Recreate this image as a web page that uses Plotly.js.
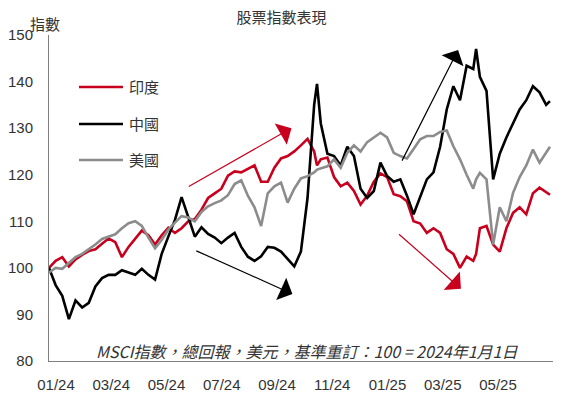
<!DOCTYPE html>
<html>
<head>
<meta charset="utf-8">
<script src="https://cdn.plot.ly/plotly-3.0.1.min.js"></script>
<style>html,body{margin:0;padding:0;background:#fff;}#chart{width:563px;height:397px;}</style>
</head>
<body>
<div id="chart"></div>
<script>
var dates = ["2024-01-01","2024-01-08","2024-01-15","2024-01-22","2024-01-29","2024-02-05","2024-02-12","2024-02-19","2024-02-26","2024-03-04","2024-03-11","2024-03-18","2024-03-25","2024-04-01","2024-04-08","2024-04-15","2024-04-22","2024-04-29","2024-05-06","2024-05-13","2024-05-20","2024-05-27","2024-06-03","2024-06-10","2024-06-17","2024-06-24","2024-07-01","2024-07-08","2024-07-15","2024-07-22","2024-07-29","2024-08-05","2024-08-12","2024-08-19","2024-08-26","2024-09-02","2024-09-09","2024-09-16","2024-09-23","2024-09-30","2024-10-07","2024-10-10","2024-10-14","2024-10-21","2024-10-28","2024-11-04","2024-11-11","2024-11-18","2024-11-25","2024-12-02","2024-12-09","2024-12-16","2024-12-23","2024-12-30","2025-01-06","2025-01-13","2025-01-20","2025-01-27","2025-02-03","2025-02-10","2025-02-17","2025-02-24","2025-03-03","2025-03-10","2025-03-17","2025-03-24","2025-03-27","2025-03-31","2025-04-07","2025-04-14","2025-04-21","2025-04-28","2025-05-05","2025-05-12","2025-05-19","2025-05-26","2025-06-02","2025-06-09","2025-06-13"];

var india = [100,101.5,102.3,100.3,101.8,102.8,103.6,104,105.2,106.3,105.5,102.3,104.5,106.3,108,107,105,107,108.6,107.5,108.5,110,110.5,112.5,115,116,117,119.8,120.7,120.5,121.3,122,118.5,118.5,121.5,123.5,124,125,126.3,127.7,125,122,123.3,123.7,119.5,117.5,118.3,116.5,113.6,115.5,118.5,120.3,119.5,115.8,115.4,114.3,110,109.5,107.5,108.5,107.5,104,103,100,102.4,101.5,103,108.5,109,105,103.5,108.5,111.8,113,111.5,116,117.2,116.3,115.7];

var china = [100,96.3,94,89,93,91.5,92.5,96,97.8,98.5,98.5,99.5,99,98.5,99.8,98.5,97.5,103,106.7,110.3,115.2,111.1,106.7,108.7,107.3,106.5,105.3,106.5,107.5,104.5,102.4,101.5,102.5,104.5,104.3,103.5,102,100.3,103.5,115,135,139.5,131,124.5,124,122,126,124,117,115,116.5,122.6,119.7,118.5,119,115.5,111.5,115.4,119,120.5,126,134,139,136,143.4,142.7,147,141,138,119,124.5,128,131,134,136,139,137.7,135,135.8];

var usa = [99,100,99.8,101,102.3,103,104,105,106.2,106.7,107.2,108.5,109.6,110,109,106.5,104.2,106,108.2,109.7,111.1,110.8,110,112,113.2,113.9,114.5,115.6,118,118.8,115.5,113,109,116,117.5,118.3,114,117,119.2,119.7,120.5,121.1,121.3,121.8,123.3,121.5,124.7,126.3,125,127,128,129,128,124.7,124,123.5,125.5,127.6,128.3,128.3,129.2,129.5,126.1,123.3,120,117,119,120.4,119,105,113,110,116.1,119.5,122,125.4,122.6,124.8,126];

var seriesNames = ["印度","中國","美國"];
var seriesColors = ["#C8001E","#000000","#8C8C8C"];
var tickVals = ["2024-01-08 09:00","2024-03-06 18:00","2024-05-04 02:00","2024-07-01 10:00","2024-08-28 18:00","2024-10-26 02:00","2024-12-23 10:00","2025-02-19 18:00","2025-04-19 03:00"];
var tickText = ["01/24","03/24","05/24","07/24","09/24","11/24","01/25","03/25","05/25"];

var allSeries = [india, china, usa];
var traces = allSeries.map(function(vals, i){
  return {x: dates, y: vals, type: "scatter", mode: "lines", name: seriesNames[i],
          line: {color: seriesColors[i], width: 2.6}, showlegend: false, hoverinfo: "skip"};
});

var txt = "#333333";
var cjk = "'Noto Sans CJK TC', 'Liberation Sans', Arial, sans-serif";
var lat = "'Liberation Sans', Arial, 'Noto Sans CJK TC', sans-serif";

var shapes = [];
var annotations = [];
var legY = [0.8405, 0.727, 0.6166];
for (var i = 0; i < 3; i++) {
  shapes.push({type: "line", xref: "paper", yref: "paper", x0: 0.0595, x1: 0.1468, y0: legY[i], y1: legY[i],
               line: {color: seriesColors[i], width: 2.6}});
  annotations.push({xref: "paper", yref: "paper", x: 0.1548, y: legY[i], xanchor: "left", yanchor: "middle",
                    text: seriesNames[i], showarrow: false, font: {family: cjk, size: 15, color: txt}});
}

function arrow(head, tail, color) {
  return {x: head[0], y: head[1], ax: tail[0], ay: tail[1], xref: "x", yref: "y", axref: "x", ayref: "y",
          text: "", showarrow: true, arrowhead: 1, arrowsize: 3.4, arrowwidth: 1.2, arrowcolor: color, standoff: 0};
}
annotations.push(arrow(["2024-09-13", 130.0], ["2024-05-26", 117.3], "#C8001E"));
annotations.push(arrow(["2024-09-14", 94.4], ["2024-06-03", 103.8], "#000000"));
annotations.push(arrow(["2025-03-08", 146.8], ["2025-01-07", 122.7], "#000000"));
annotations.push(arrow(["2025-03-11", 95.5], ["2025-01-03", 107.5], "#C8001E"));

annotations.push({xref: "paper", yref: "paper", x: 0.511, y: 0.03, xanchor: "center", yanchor: "middle",
  text: "<i>MSCI指數，總回報，美元，基準重訂：100 = 2024年1月1日</i>", showarrow: false,
  font: {family: cjk, size: 16, color: txt}});
annotations.push({xref: "paper", yref: "paper", x: -0.042, y: 1.035, xanchor: "left", yanchor: "middle",
  text: "指數", showarrow: false, font: {family: cjk, size: 15, color: txt}});

var layout = {
  width: 563, height: 397,
  margin: {l: 49, r: 10, t: 35, b: 36},
  paper_bgcolor: "#ffffff", plot_bgcolor: "#ffffff",
  title: {text: "股票指數表現", x: 0.5, xref: "container", y: 0.955, yref: "container", yanchor: "middle",
          font: {family: cjk, size: 15, color: txt}},
  xaxis: {type: "date", range: ["2024-01-01", "2025-06-16 05:00"], tickvals: tickVals, ticktext: tickText,
          showgrid: false, zeroline: false, showline: true, linecolor: "#7f7f7f", linewidth: 1,
          ticks: "", ticklabelstandoff: 10, tickfont: {family: lat, size: 15, color: txt}},
  yaxis: {range: [80, 150], tickvals: [80,90,100,110,120,130,140,150], showgrid: false, zeroline: false,
          showline: true, linecolor: "#7f7f7f", linewidth: 1, ticks: "", ticklabelstandoff: 12,
          tickfont: {family: lat, size: 15, color: txt}},
  shapes: shapes,
  annotations: annotations,
  showlegend: false
};

Plotly.newPlot("chart", traces, layout, {displayModeBar: false, staticPlot: true});
</script>
</body>
</html>
